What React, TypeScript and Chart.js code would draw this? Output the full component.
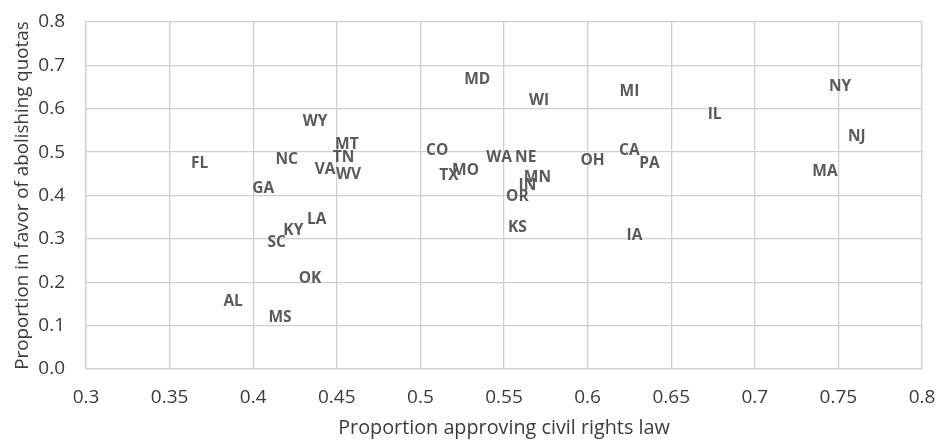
import React, { useEffect, useRef } from "react";
import { Chart, registerables } from "chart.js";

Chart.register(...registerables);

const states = ["FL", "NC", "GA", "WY", "MT", "TN", "VA", "WV", "LA", "KY", "SC", "OK", "AL", "MS", "MD", "WI", "MI", "CO", "TX", "MO", "WA", "NE", "MN", "IN", "OR", "KS", "OH", "CA", "PA", "IA", "IL", "NY", "NJ", "MA"];

const approvingCivilRights = [0.368, 0.420, 0.406, 0.437, 0.456, 0.454, 0.443, 0.457, 0.438, 0.424, 0.414, 0.434, 0.388, 0.416, 0.534, 0.571, 0.625, 0.510, 0.517, 0.527, 0.547, 0.563, 0.570, 0.564, 0.558, 0.558, 0.603, 0.625, 0.637, 0.628, 0.676, 0.751, 0.761, 0.742];

const favorAbolishingQuotas = [0.477, 0.485, 0.418, 0.573, 0.520, 0.490, 0.462, 0.451, 0.348, 0.322, 0.293, 0.211, 0.157, 0.122, 0.669, 0.622, 0.641, 0.505, 0.448, 0.461, 0.490, 0.490, 0.445, 0.425, 0.399, 0.328, 0.482, 0.505, 0.476, 0.311, 0.588, 0.653, 0.538, 0.458];

const xTicks = [0.3, 0.35, 0.4, 0.45, 0.5, 0.55, 0.6, 0.65, 0.7, 0.75, 0.8];
const yTicks = [0, 0.1, 0.2, 0.3, 0.4, 0.5, 0.6, 0.7, 0.8];

const xTitle = "Proportion approving civil rights law";
const yTitle = "Proportion in favor of abolishing quotas";

const FONT = '"Open Sans", "Noto Sans", sans-serif';
const GRID = "#cfcfcf";
const TEXT = "#3b3b3b";
const LABEL_SIZE = 15.5;

const labelPlugin = {
  id: "stateLabels",
  afterDatasetsDraw(chart: any) {
    const meta = chart.getDatasetMeta(0);
    const ctx = chart.ctx;
    ctx.save();
    ctx.font = `bold ${LABEL_SIZE}px ${FONT}`;
    ctx.fillStyle = "#5a5a5a";
    ctx.textAlign = "center";
    ctx.textBaseline = "alphabetic";
    meta.data.forEach((el: any, i: number) => {
      ctx.fillText(states[i], el.x, el.y + LABEL_SIZE * 0.357);
    });
    ctx.restore();
  },
};

export default function App() {
  const ref = useRef<HTMLCanvasElement | null>(null);

  useEffect(() => {
    if (!ref.current) return;
    const chart = new Chart(ref.current, {
      type: "scatter",
      data: {
        datasets: [
          {
            label: "States",
            data: approvingCivilRights.map((x, i) => ({ x, y: favorAbolishingQuotas[i] })),
            pointRadius: 0,
            pointHoverRadius: 0,
            backgroundColor: "rgba(0,0,0,0)",
            borderColor: "rgba(0,0,0,0)",
          },
        ],
      },
      options: {
        responsive: false,
        animation: false,
        events: [],
        layout: { padding: { top: 22, right: 14, left: 0, bottom: 0 } },
        plugins: {
          legend: { display: false },
          tooltip: { enabled: false },
          title: { display: false },
        },
        scales: {
          x: {
            type: "linear",
            min: 0.3,
            max: 0.8,
            afterBuildTicks: (scale: any) => {
              scale.ticks = xTicks.map((v) => ({ value: v }));
            },
            afterFit: (scale: any) => {
              scale.height = 72;
              scale.paddingLeft = 0;
              scale.paddingRight = 0;
            },
            grid: { color: GRID, lineWidth: 1.3, drawTicks: false },
            border: { display: true, color: GRID, width: 1.3 },
            ticks: {
              padding: 17,
              color: TEXT,
              font: { family: FONT, size: 19 },
              maxRotation: 0,
              callback: (v: any) => String(Math.round(Number(v) * 100) / 100),
            },
            title: {
              display: true,
              text: xTitle,
              color: TEXT,
              font: { family: FONT, size: 19.8 },
              padding: { top: 0, bottom: 1 },
            },
          },
          y: {
            type: "linear",
            min: 0,
            max: 0.8,
            afterBuildTicks: (scale: any) => {
              scale.ticks = yTicks.map((v) => ({ value: v }));
            },
            afterFit: (scale: any) => {
              scale.width = 86;
              scale.paddingTop = 0;
              scale.paddingBottom = 0;
            },
            grid: { color: GRID, lineWidth: 1.3, drawTicks: false },
            border: { display: true, color: GRID, width: 1.3 },
            ticks: {
              padding: 21,
              color: TEXT,
              font: { family: FONT, size: 19 },
              callback: (v: any) => Number(v).toFixed(1),
            },
            title: {
              display: true,
              text: yTitle,
              color: TEXT,
              font: { family: FONT, size: 18.8 },
              padding: { top: 11, bottom: 0 },
            },
          },
        },
      },
      plugins: [labelPlugin],
    });
    return () => chart.destroy();
  }, []);

  return (
    <div style={{ position: "absolute", left: 0, top: 0, width: 936, height: 441, background: "#ffffff" }}>
      <canvas ref={ref} width={936} height={441} style={{ width: 936, height: 441, display: "block" }} />
    </div>
  );
}
